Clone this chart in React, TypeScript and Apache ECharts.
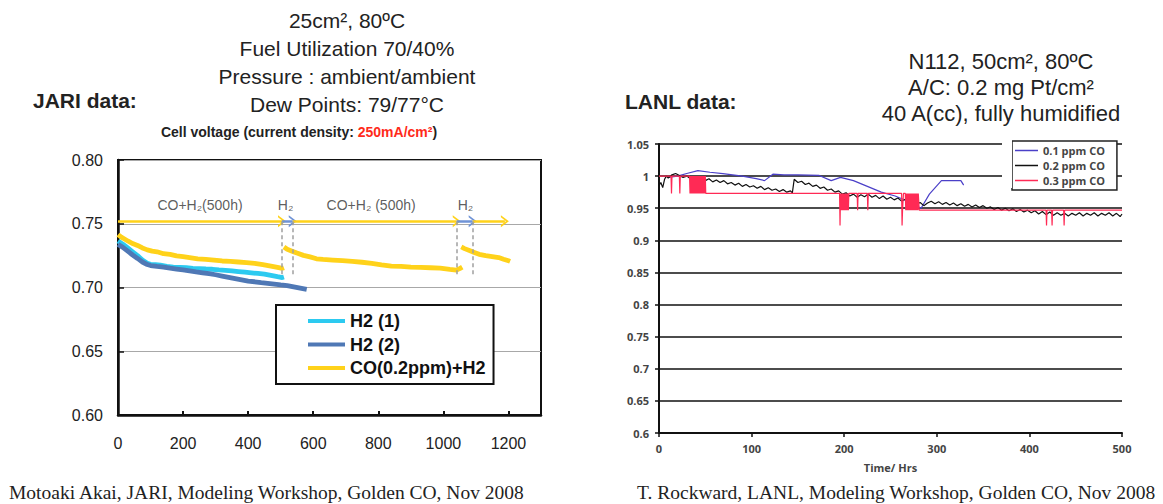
import React, { useEffect, useRef } from "react";
import * as echarts from "echarts";

// ---------------- JARI data (left chart) ----------------
const jariHours = { min: 0, max: 1300, step: 200 };
const jariVolts = { min: 0.6, max: 0.8, step: 0.05 };

const h2One: [number, number][] = [
  [0, 0.7365], [15, 0.734], [30, 0.731], [45, 0.728], [60, 0.725], [75, 0.7215], [90, 0.719],
  [100, 0.7182], [115, 0.718], [130, 0.7175], [150, 0.7165], [170, 0.716], [190, 0.7158],
  [210, 0.7155], [230, 0.715], [250, 0.7148], [270, 0.7145], [290, 0.7143], [310, 0.7138],
  [330, 0.7135], [350, 0.713], [370, 0.7125], [390, 0.712], [410, 0.7115], [430, 0.711],
  [450, 0.7105], [470, 0.7095], [490, 0.7085], [505, 0.7078], [510, 0.7082],
];

const h2Two: [number, number][] = [
  [0, 0.7338], [15, 0.7315], [30, 0.7285], [45, 0.7255], [60, 0.7228], [75, 0.72], [90, 0.718],
  [100, 0.7172], [120, 0.7165], [140, 0.716], [160, 0.7152], [180, 0.7145], [200, 0.7138],
  [220, 0.713], [240, 0.7122], [260, 0.7115], [280, 0.7108], [300, 0.71], [320, 0.709],
  [340, 0.708], [360, 0.707], [380, 0.706], [400, 0.705], [420, 0.7045], [440, 0.7038],
  [460, 0.7032], [480, 0.7026], [500, 0.702], [520, 0.7015], [540, 0.7005], [560, 0.6995],
  [580, 0.6985],
];

const coRun1: [number, number][] = [
  [0, 0.7415], [10, 0.7395], [20, 0.738], [30, 0.7365], [45, 0.7345], [60, 0.733], [75, 0.731],
  [90, 0.7295], [105, 0.7285], [120, 0.728], [140, 0.7265], [160, 0.726], [180, 0.7248],
  [200, 0.7242], [220, 0.7235], [245, 0.7225], [270, 0.722], [295, 0.7215], [320, 0.7208],
  [345, 0.7205], [370, 0.72], [395, 0.7195], [420, 0.719], [445, 0.718], [470, 0.7168],
  [490, 0.7158], [505, 0.715], [510, 0.7155],
];
const coRun2: [number, number][] = [
  [510, 0.7318], [520, 0.73], [535, 0.7285], [550, 0.727], [570, 0.7252], [590, 0.724],
  [610, 0.7225], [630, 0.722], [660, 0.7215], [690, 0.721], [720, 0.7205], [750, 0.7198],
  [780, 0.719], [810, 0.7178], [840, 0.7168], [870, 0.7165], [900, 0.716], [930, 0.7158],
  [960, 0.7155], [990, 0.7152], [1020, 0.7142], [1040, 0.7136], [1050, 0.7148], [1058, 0.716],
];
const coRun3: [number, number][] = [
  [1055, 0.7318], [1065, 0.7305], [1080, 0.729], [1095, 0.7275], [1110, 0.726], [1130, 0.725],
  [1150, 0.7243], [1170, 0.7235], [1185, 0.7222], [1200, 0.721], [1205, 0.7205],
];

// phase arrows (hours) drawn at this voltage
const arrowLevel = 0.752;
const dashBottom = 0.709;
const phaseArrows: [number, number, string][] = [
  [0, 504, "#ffd21a"],
  [504, 537, "#6f93d6"],
  [537, 1041, "#ffd21a"],
  [1041, 1090, "#6f93d6"],
  [1090, 1189, "#ffd21a"],
];
const switchHours = [504, 537, 1041, 1090];
const phaseLabels: [number, number, string][] = [
  [252, 0.7645, "CO+H\u2082(500h)"],
  [515, 0.7645, "H\u2082"],
  [778, 0.7645, "CO+H\u2082 (500h)"],
  [1068, 0.7645, "H\u2082"],
];

// ---------------- LANL data (right chart) ----------------
const lanlHours = { min: 0, max: 500, step: 100 };
const lanlVolts = { min: 0.6, max: 1.05, step: 0.05 };

const co01: [number, number][] = [
  [10, 0.998], [20, 1.0], [30, 1.004], [42, 1.0085], [55, 1.006], [69, 1.004], [90, 1.0],
  [105, 0.996], [114, 0.993], [123, 1.003], [135, 1.002], [150, 1.002], [173, 1.001],
  [186, 0.993], [196, 0.998], [210, 0.993], [225, 0.984], [240, 0.975], [255, 0.969],
  [270, 0.96], [283, 0.95], [292, 0.972], [305, 0.993], [326, 0.993], [329, 0.986],
];

const co02: [number, number][] = [
  [0, 0.985], [2, 0.99], [4, 0.982], [6, 0.995], [8, 1.0], [10, 0.997], [14, 1.002], [18, 1.004],
  [22, 1.001], [26, 0.998], [30, 1.0], [34, 0.996], [38, 0.999], [42, 0.994], [46, 0.997],
  [50, 0.993], [54, 0.996], [58, 0.991], [62, 0.994], [66, 0.99], [70, 0.993], [74, 0.988],
  [78, 0.99], [82, 0.986], [86, 0.989], [90, 0.984], [94, 0.987], [98, 0.983], [102, 0.985],
  [106, 0.981], [110, 0.984], [114, 0.979], [118, 0.982], [122, 0.978], [126, 0.98],
  [130, 0.976], [134, 0.979], [138, 0.975], [142, 0.977], [144, 0.974], [146, 0.995],
  [150, 0.99], [154, 0.992], [158, 0.987], [162, 0.989], [166, 0.984], [170, 0.986],
  [174, 0.981], [178, 0.983], [182, 0.978], [186, 0.98], [190, 0.975], [194, 0.977],
  [198, 0.972], [202, 0.974], [206, 0.969], [210, 0.972], [214, 0.967], [218, 0.971],
  [222, 0.968], [226, 0.972], [230, 0.967], [234, 0.97], [238, 0.965], [242, 0.969],
  [246, 0.964], [250, 0.967], [254, 0.963], [258, 0.966], [262, 0.961], [266, 0.964],
  [270, 0.959], [274, 0.962], [278, 0.956], [282, 0.959], [286, 0.954], [290, 0.958],
  [294, 0.961], [298, 0.957], [302, 0.96], [306, 0.956], [310, 0.959], [314, 0.955],
  [318, 0.958], [322, 0.954], [326, 0.957], [330, 0.953], [334, 0.956], [338, 0.952],
  [342, 0.955], [346, 0.951], [350, 0.954], [354, 0.95], [358, 0.952], [362, 0.948],
  [366, 0.951], [370, 0.947], [374, 0.95], [378, 0.946], [382, 0.949], [386, 0.945],
  [390, 0.948], [394, 0.944], [398, 0.947], [402, 0.943], [406, 0.946], [410, 0.941],
  [414, 0.945], [418, 0.94], [422, 0.944], [426, 0.939], [430, 0.943], [434, 0.939],
  [438, 0.942], [442, 0.938], [446, 0.942], [450, 0.939], [454, 0.943], [458, 0.938],
  [462, 0.942], [466, 0.939], [470, 0.943], [474, 0.938], [478, 0.942], [482, 0.939],
  [486, 0.943], [490, 0.938], [494, 0.942], [498, 0.937], [500, 0.941],
];

const co03: [number, number][] = [
  [0, 1.0], [13, 1.0], [13.5, 0.973], [14, 1.0], [22, 1.0], [22.5, 0.973], [23, 1.0],
  [33, 1.0], [33.5, 0.973], [34, 1.0], [34.5, 0.973], [35, 1.0], [35.5, 0.973], [36, 1.0],
  [36.5, 0.973], [37, 1.0], [37.5, 0.973], [38, 1.0], [38.5, 0.973], [39, 1.0], [39.5, 0.973],
  [40, 1.0], [40.5, 0.973], [41, 1.0], [41.5, 0.973], [42, 1.0], [42.5, 0.973], [43, 1.0],
  [43.5, 0.973], [44, 1.0], [44.5, 0.973], [45, 1.0], [45.5, 0.973], [46, 1.0], [46.5, 0.973],
  [47, 1.0], [47.5, 0.973], [48, 1.0], [48.5, 0.973], [49, 1.0], [49.5, 0.973], [50, 1.0],
  [50.5, 0.973], [195, 0.973], [195.5, 0.923], [196, 0.973], [196.5, 0.947], [197, 0.973],
  [197.5, 0.947], [198, 0.973], [198.5, 0.947], [199, 0.973], [199.5, 0.947], [200, 0.973],
  [200.5, 0.947], [201, 0.973], [201.5, 0.947], [202, 0.973], [202.5, 0.947], [203, 0.973],
  [203.5, 0.947], [204, 0.973], [204.5, 0.947], [205, 0.973], [214, 0.973], [214.5, 0.947],
  [215, 0.973], [225, 0.973], [225.5, 0.947], [226, 0.973], [262, 0.973], [262.5, 0.923],
  [263, 0.947], [264, 0.973], [266, 0.973], [266.5, 0.947], [267, 0.973], [267.5, 0.947],
  [268, 0.973], [268.5, 0.947], [269, 0.973], [269.5, 0.947], [270, 0.973], [270.5, 0.947],
  [271, 0.973], [271.5, 0.947], [272, 0.973], [272.5, 0.947], [273, 0.973], [273.5, 0.947],
  [274, 0.973], [274.5, 0.947], [275, 0.973], [275.5, 0.947], [276, 0.973], [276.5, 0.947],
  [277, 0.973], [277.5, 0.947], [278, 0.973], [278.5, 0.947], [279, 0.973], [279.5, 0.947],
  [280, 0.973], [281, 0.947], [418, 0.947], [418.5, 0.923], [419, 0.947], [424, 0.947],
  [424.5, 0.923], [425, 0.947], [437, 0.947], [437.5, 0.923], [438, 0.947], [500, 0.947],
];

const SANS = "'Liberation Sans', Arial, sans-serif";
const NARROW = "'Liberation Sans Narrow', 'Liberation Sans', Arial, sans-serif";
const SERIF = "'Liberation Serif', 'Times New Roman', serif";
const CAL = "'Open Sans', Lato, sans-serif";

const chevronUp = "path://M5 0 L10 10 L8.2 10 L5 3.6 L1.8 10 L0 10 Z";

export default function App() {
  const ref = useRef<HTMLDivElement>(null);

  useEffect(() => {
    if (!ref.current) return;
    const chart = echarts.init(ref.current, undefined, { renderer: "svg" });

    const thick = (name: string, data: [number, number][], color: string, z: number) => ({
      type: "line",
      name,
      data,
      xAxisIndex: 0,
      yAxisIndex: 0,
      showSymbol: false,
      symbol: "none",
      z,
      lineStyle: { color, width: 4.8 },
      itemStyle: { color },
    });
    const thin = (name: string, data: [number, number][], color: string, z: number) => ({
      type: "line",
      name,
      data,
      xAxisIndex: 1,
      yAxisIndex: 1,
      showSymbol: false,
      symbol: "none",
      z,
      lineStyle: { color, width: 1.2 },
      itemStyle: { color },
    });

    const option: any = {
      animation: false,
      backgroundColor: "#fff",
      grid: [
        { left: 118, top: 160, width: 423, height: 255, show: true, borderColor: "#111", borderWidth: 2, backgroundColor: "transparent" },
        { left: 659, top: 144, width: 463, height: 289 },
      ],
      xAxis: [
        {
          type: "value", gridIndex: 0, min: jariHours.min, max: jariHours.max, interval: jariHours.step,
          axisLine: { show: true, lineStyle: { color: "#111", width: 2.5 } },
          axisTick: { show: true, inside: true, length: 4, lineStyle: { color: "#111", width: 2 } },
          axisLabel: { fontFamily: NARROW, fontSize: 16, color: "#222", margin: 20, showMaxLabel: false, formatter: (v: number) => String(v) },
          splitLine: { show: false },
        },
        {
          type: "value", gridIndex: 1, min: lanlHours.min, max: lanlHours.max, interval: lanlHours.step,
          axisLine: { show: true, lineStyle: { color: "#111", width: 2 } },
          axisTick: { show: true, length: 4, lineStyle: { color: "#111", width: 1.5 } },
          axisLabel: { fontFamily: CAL, fontWeight: "bold", fontSize: 11, color: "#444", margin: 10, formatter: (v: number) => String(v) },
          splitLine: { show: false },
          name: "Time/ Hrs", nameLocation: "middle", nameGap: 29,
          nameTextStyle: { fontFamily: CAL, fontWeight: "bold", fontSize: 11, color: "#444" },
        },
      ],
      yAxis: [
        {
          type: "value", gridIndex: 0, min: jariVolts.min, max: jariVolts.max, interval: jariVolts.step,
          axisLine: { show: true, lineStyle: { color: "#111", width: 2.5 } },
          axisTick: { show: true, inside: true, length: 6, lineStyle: { color: "#111", width: 1.5 } },
          axisLabel: { fontFamily: NARROW, fontSize: 16, color: "#222", margin: 15, formatter: (v: number) => v.toFixed(2) },
          splitLine: { show: true, lineStyle: { color: "#a8a8a8", width: 1 } },
        },
        {
          type: "value", gridIndex: 1, min: lanlVolts.min, max: lanlVolts.max, interval: lanlVolts.step,
          axisLine: { show: true, lineStyle: { color: "#111", width: 2 } },
          axisTick: { show: true, length: 4, lineStyle: { color: "#111", width: 1.5 } },
          axisLabel: { fontFamily: CAL, fontWeight: "bold", fontSize: 11, color: "#444", margin: 10, formatter: (v: number) => String(+v.toFixed(2)) },
          splitLine: { show: true, lineStyle: { color: "#111", width: 1.5 } },
        },
      ],
      legend: [
        {
          data: ["H2 (1)", "H2 (2)", "CO(0.2ppm)+H2"],
          left: 276, top: 305, orient: "vertical", icon: "rect",
          itemWidth: 37, itemHeight: 4, itemGap: 3.5, padding: [6, 8, 6, 32],
          borderColor: "#111", borderWidth: 2, backgroundColor: "#fff",
          selectedMode: false,
          textStyle: { fontFamily: SANS, fontWeight: "bold", fontSize: 18, color: "#111", lineHeight: 20 },
        },
        {
          data: ["0.1 ppm CO", "0.2 ppm CO", "0.3 ppm CO"],
          left: 1012, top: 141, orient: "vertical", icon: "rect",
          itemWidth: 23, itemHeight: 1.5, itemGap: 2, padding: [3, 12, 3, 3],
          borderColor: "#222", borderWidth: 1.5, backgroundColor: "#fff",
          selectedMode: false,
          textStyle: { fontFamily: CAL, fontWeight: "bold", fontSize: 11, color: "#444", lineHeight: 13 },
        },
      ],
      graphic: [
        { type: "rect", z: 100, shape: { x: 1002, y: 138, width: 10, height: 50 }, style: { fill: "#fff" } },
        { type: "text", x: 347, y: 20, style: { text: "25cm\u00b2, 80\u00baC", font: `21px ${SANS}`, fill: "#222", textAlign: "center", textVerticalAlign: "middle" } },
        { type: "text", x: 347, y: 48, style: { text: "Fuel Utilization 70/40%", font: `21px ${SANS}`, fill: "#222", textAlign: "center", textVerticalAlign: "middle" } },
        { type: "text", x: 347, y: 76, style: { text: "Pressure : ambient/ambient", font: `21px ${SANS}`, fill: "#222", textAlign: "center", textVerticalAlign: "middle" } },
        { type: "text", x: 347, y: 104, style: { text: "Dew Points: 79/77\u00b0C", font: `21px ${SANS}`, fill: "#222", textAlign: "center", textVerticalAlign: "middle" } },
        { type: "text", x: 33, y: 100, style: { text: "JARI data:", font: `bold 21px ${SANS}`, fill: "#222", textAlign: "left", textVerticalAlign: "middle" } },
        {
          type: "text", x: 299, y: 132,
          style: {
            text: "{a|Cell voltage (current density: }{r|250mA/cm\u00b2}{a|)}",
            textAlign: "center", textVerticalAlign: "middle",
            rich: {
              a: { font: `bold 14px ${SANS}`, fill: "#222" },
              r: { font: `bold 14px ${SANS}`, fill: "#ff2a1a" },
            },
          },
        },
        { type: "text", x: 1001, y: 61, style: { text: "N112, 50cm\u00b2, 80\u00baC", font: `22px ${SANS}`, fill: "#222", textAlign: "center", textVerticalAlign: "middle" } },
        { type: "text", x: 1001, y: 87, style: { text: "A/C: 0.2 mg Pt/cm\u00b2", font: `22px ${SANS}`, fill: "#222", textAlign: "center", textVerticalAlign: "middle" } },
        { type: "text", x: 1001, y: 113, style: { text: "40 A(cc), fully humidified", font: `22px ${SANS}`, fill: "#222", textAlign: "center", textVerticalAlign: "middle" } },
        { type: "text", x: 625, y: 101, style: { text: "LANL data:", font: `bold 21px ${SANS}`, fill: "#222", textAlign: "left", textVerticalAlign: "middle" } },
        { type: "text", x: 9, y: 492, style: { text: "Motoaki Akai, JARI, Modeling Workshop, Golden CO, Nov 2008", font: `19.5px ${SERIF}`, fill: "#222", textAlign: "left", textVerticalAlign: "middle" } },
        { type: "text", x: 637, y: 492, style: { text: "T. Rockward, LANL, Modeling Workshop, Golden CO, Nov 2008", font: `19.5px ${SERIF}`, fill: "#222", textAlign: "left", textVerticalAlign: "middle" } },
      ],
      series: [
        {
          type: "line", name: "phases", xAxisIndex: 0, yAxisIndex: 0, data: [], z: 3,
          markLine: {
            silent: true, symbol: ["none", chevronUp], symbolSize: [12, 8],
            label: { show: false }, emphasis: { disabled: true },
            data: phaseArrows.map(([a, b, c]) => [
              { coord: [a, arrowLevel], lineStyle: { color: c, width: 2.5, type: "solid" }, itemStyle: { color: c } },
              { coord: [b, arrowLevel], itemStyle: { color: c } },
            ]),
          },
        },
        {
          type: "line", name: "switches", xAxisIndex: 0, yAxisIndex: 0, data: [], z: 3,
          markLine: {
            silent: true, symbol: ["none", "none"],
            label: { show: false }, emphasis: { disabled: true },
            lineStyle: { color: "#a0a0a0", width: 1.5, type: [4, 3] },
            data: switchHours.map((h) => [{ coord: [h, arrowLevel] }, { coord: [h, dashBottom] }]),
          },
        },
        {
          type: "scatter", name: "phaseText", xAxisIndex: 0, yAxisIndex: 0, symbolSize: 0, silent: true,
          data: phaseLabels,
          label: {
            show: true, position: "inside", formatter: (p: any) => p.data[2],
            fontFamily: NARROW, fontSize: 14, color: "#333",
          },
        },
        thick("CO(0.2ppm)+H2", coRun1, "#ffd21a", 4),
        thick("CO(0.2ppm)+H2", coRun2, "#ffd21a", 4),
        thick("CO(0.2ppm)+H2", coRun3, "#ffd21a", 4),
        thick("H2 (1)", h2One, "#2ccaf0", 5),
        thick("H2 (2)", h2Two, "#4f78b5", 6),
        thin("0.1 ppm CO", co01, "#4b40c8", 4),
        thin("0.2 ppm CO", co02, "#111111", 5),
        thin("0.3 ppm CO", co03, "#ff2a55", 6),
      ],
    };

    chart.setOption(option);
    return () => chart.dispose();
  }, []);

  return (
    <div
      ref={ref}
      style={{ position: "fixed", left: 0, top: 0, width: 1163, height: 504, background: "#fff" }}
    />
  );
}
